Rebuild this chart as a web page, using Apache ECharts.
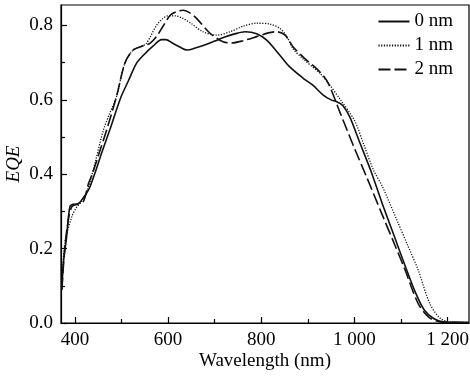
<!DOCTYPE html>
<html>
<head>
<meta charset="utf-8">
<script src="https://cdn.jsdelivr.net/npm/echarts@6/dist/echarts.min.js"></script>
<style>
  html, body { margin: 0; padding: 0; background: #fff; }
  #chart { width: 470px; height: 378px; }
</style>
</head>
<body>
<div id="chart"></div>
<script>
// values
var wl0 = [372, 375, 382, 389, 396, 404, 414, 430, 442, 458, 475, 498, 515, 532, 547, 568, 586, 595, 610, 625, 641, 660, 680, 700, 720, 745, 765, 790, 811, 840, 860, 890, 910, 933, 950, 962, 975, 990, 1010, 1035, 1060, 1085, 1110, 1130, 1150, 1170, 1190, 1210, 1245]
var eqe0 = [0.09, 0.16, 0.231, 0.312, 0.319, 0.319, 0.33, 0.36, 0.40, 0.46, 0.52, 0.605, 0.652, 0.698, 0.72, 0.745, 0.762, 0.762, 0.752, 0.742, 0.734, 0.74, 0.748, 0.758, 0.768, 0.778, 0.783, 0.778, 0.761, 0.72, 0.69, 0.658, 0.64, 0.613, 0.60, 0.595, 0.585, 0.554, 0.49, 0.41, 0.32, 0.235, 0.15, 0.085, 0.035, 0.012, 0.003, 0.002, 0.002]

var wl1 = [372, 378, 393, 404, 414, 429, 445, 461, 475, 489, 507, 525, 540, 552, 562, 575, 588, 600, 615, 630, 650, 675, 704, 733, 761, 790, 818, 840, 855, 868, 890, 926, 944, 970, 1000, 1020, 1041, 1060, 1090, 1115, 1137, 1162, 1185, 1210, 1245]
var eqe1 = [0.09, 0.214, 0.285, 0.312, 0.326, 0.366, 0.44, 0.519, 0.565, 0.608, 0.698, 0.734, 0.742, 0.75, 0.77, 0.80, 0.818, 0.826, 0.826, 0.82, 0.805, 0.783, 0.774, 0.783, 0.798, 0.806, 0.804, 0.792, 0.77, 0.738, 0.71, 0.671, 0.645, 0.60, 0.545, 0.48, 0.411, 0.367, 0.28, 0.207, 0.142, 0.052, 0.012, 0.002, 0.001]

var wl2 = [372, 378, 386, 393, 400, 407, 418, 429, 437, 450, 468, 489, 507, 525, 550, 561, 575, 590, 605, 620, 632, 645, 661, 690, 718, 736, 761, 790, 815, 833, 851, 868, 890, 926, 944, 970, 1000, 1026, 1060, 1085, 1108, 1137, 1160, 1185, 1245]
var eqe2 = [0.09, 0.20, 0.28, 0.312, 0.318, 0.321, 0.326, 0.375, 0.40, 0.45, 0.519, 0.608, 0.698, 0.734, 0.747, 0.752, 0.77, 0.80, 0.828, 0.838, 0.841, 0.835, 0.819, 0.779, 0.756, 0.753, 0.759, 0.77, 0.78, 0.783, 0.774, 0.743, 0.715, 0.675, 0.644, 0.563, 0.47, 0.393, 0.29, 0.215, 0.145, 0.052, 0.015, 0.003, 0.001]

var seriesNames = ['0 nm', '1 nm', '2 nm']
var xMajor = [400, 600, 800, 1000, 1200]
var xMinor = [500, 700, 900, 1100]
var yMajor = [0, 0.2, 0.4, 0.6, 0.8]
var yMinor = [0.1, 0.3, 0.5, 0.7]

function pairs(xs, ys) {
  return xs.map(function (x, i) { return [x, ys[i]] })
}

var font = 'Liberation Serif'
var axisLine = { show: true, lineStyle: { color: '#000', width: 1.2 } }

var chart = echarts.init(document.getElementById('chart'))
chart.setOption({
  animation: false,
  grid: {
    left: 61, right: 1, top: 5, bottom: 55,
    outerBoundsMode: 'none', containLabel: false,
    show: true, borderColor: '#000', borderWidth: 1.2, backgroundColor: 'transparent'
  },
  legend: {
    orient: 'vertical',
    right: 12,
    top: 7,
    itemWidth: 31,
    itemHeight: 12,
    itemGap: 5,
    itemStyle: { color: 'transparent', borderWidth: 0, opacity: 0 },
    textStyle: { fontFamily: font, fontSize: 19, color: '#000' },
    data: seriesNames
  },
  xAxis: [
    {
      type: 'value', min: 370, max: 1246,
      name: 'Wavelength (nm)', nameLocation: 'middle', nameGap: 29,
      nameMoveOverlap: false,
      nameTextStyle: { fontFamily: font, fontSize: 19, color: '#000' },
      axisLine: axisLine,
      axisTick: { show: true, inside: true, length: 6, customValues: xMajor, lineStyle: { color: '#000', width: 1.2 } },
      axisLabel: {
        customValues: xMajor, margin: 8,
        fontFamily: font, fontSize: 19, color: '#000',
        formatter: function (v) { return v >= 1000 ? String(v).replace(/^(\d)(\d{3})$/, '$1 $2') : String(v) }
      },
      splitLine: { show: false }
    },
    {
      type: 'value', min: 370, max: 1246, position: 'bottom',
      axisLine: { show: false },
      axisTick: { show: true, inside: true, length: 4, customValues: xMinor, lineStyle: { color: '#000', width: 1.2 } },
      axisLabel: { show: false },
      splitLine: { show: false }
    }
  ],
  yAxis: [
    {
      type: 'value', min: 0, max: 0.855,
      name: 'EQE', nameLocation: 'middle', nameGap: 38, nameRotate: 90,
      nameMoveOverlap: false,
      nameTextStyle: { fontFamily: font, fontSize: 19, fontStyle: 'italic', color: '#000' },
      axisLine: axisLine,
      axisTick: { show: true, inside: true, length: 6, customValues: yMajor, lineStyle: { color: '#000', width: 1.2 } },
      axisLabel: {
        customValues: yMajor, margin: 8,
        fontFamily: font, fontSize: 19, color: '#000',
        formatter: function (v) { return v.toFixed(1) }
      },
      splitLine: { show: false }
    },
    {
      type: 'value', min: 0, max: 0.855, position: 'left',
      axisLine: { show: false },
      axisTick: { show: true, inside: true, length: 4, customValues: yMinor, lineStyle: { color: '#000', width: 1.2 } },
      axisLabel: { show: false },
      splitLine: { show: false }
    }
  ],
  series: [
    {
      name: seriesNames[0], type: 'line', symbol: 'none', smooth: 0.3,
      data: pairs(wl0, eqe0),
      lineStyle: { color: '#111', width: 1.6, type: 'solid' },
      itemStyle: { color: '#111' }
    },
    {
      name: seriesNames[1], type: 'line', symbol: 'none', smooth: 0.3,
      data: pairs(wl1, eqe1),
      lineStyle: { color: '#111', width: 1.3, type: [1.2, 1.5] },
      itemStyle: { color: '#111' }
    },
    {
      name: seriesNames[2], type: 'line', symbol: 'none', smooth: 0.3,
      data: pairs(wl2, eqe2),
      lineStyle: { color: '#111', width: 1.6, type: [12, 4] },
      itemStyle: { color: '#111' }
    }
  ]
})
</script>
</body>
</html>
